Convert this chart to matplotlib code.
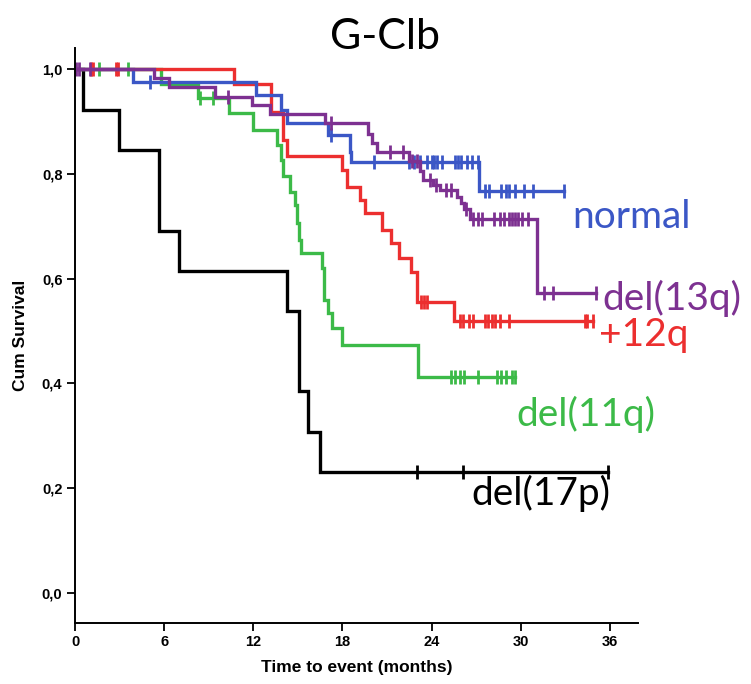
import numpy as np
import matplotlib
matplotlib.use("Agg")
import matplotlib.pyplot as plt

# ---------------- data (months, cumulative survival) ----------------
normal_times = [3.9, 12.2, 13.9, 14.25, 17.0, 18.5, 18.6, 27.2]
normal_surv = [0.975, 0.951, 0.922, 0.898, 0.874, 0.843, 0.823, 0.768]
normal_cens = [5.05, 17.2, 20.1, 22.5, 22.8, 23.2, 23.7, 24.0, 24.2, 24.4, 24.7,
               25.6, 25.8, 26.0, 26.4, 26.7, 27.1, 27.6, 27.9, 28.7, 29.0, 29.2,
               29.6, 30.2, 30.8, 32.9]

del13q_times = [5.3, 6.3, 9.4, 11.9, 13.1, 16.8, 19.7, 20.0, 20.3, 22.5, 23.2,
                23.4, 24.1, 24.6, 25.7, 26.0, 26.2, 26.6, 31.1]
del13q_surv = [0.983, 0.967, 0.948, 0.931, 0.914, 0.897, 0.876, 0.859, 0.843,
               0.824, 0.805, 0.789, 0.779, 0.769, 0.757, 0.745, 0.734, 0.715, 0.572]
del13q_cens = [0.05, 0.3, 1.0, 10.3, 17.2, 21.2, 22.1, 22.7, 23.0, 23.9, 24.3,
               25.0, 25.3, 26.3, 26.8, 27.1, 27.4, 28.2, 28.6, 28.9, 29.2, 29.4,
               29.6, 29.8, 30.1, 30.5, 31.6, 32.2, 35.1]

plus12q_times = [10.7, 13.2, 14.0, 14.3, 17.95, 18.3, 19.2, 19.5, 20.7, 21.25,
                 21.8, 22.6, 23.0, 25.5]
plus12q_surv = [0.972, 0.919, 0.865, 0.834, 0.808, 0.776, 0.750, 0.725, 0.694,
                0.668, 0.639, 0.613, 0.556, 0.520]
plus12q_cens = [1.06, 1.2, 2.76, 2.9, 23.3, 23.5, 23.7, 25.9, 26.1, 26.5, 26.8,
                27.6, 27.8, 28.05, 28.3, 28.6, 29.2, 34.3, 34.5, 34.9]

del11q_times = [5.8, 8.3, 10.4, 11.96, 13.57, 13.84, 13.97, 14.5, 14.8, 14.96,
                15.1, 15.2, 16.6, 16.75, 17.05, 17.3, 18.0, 23.1]
del11q_surv = [0.972, 0.945, 0.916, 0.885, 0.855, 0.827, 0.796, 0.766, 0.741,
               0.706, 0.674, 0.650, 0.620, 0.559, 0.534, 0.505, 0.473, 0.413]
del11q_cens = [1.6, 3.6, 8.4, 9.3, 25.3, 25.6, 25.9, 26.2, 27.1, 28.4, 28.7,
               29.0, 29.4, 29.6]

del17p_times = [0.56, 2.98, 5.67, 7.0, 14.25, 15.1, 15.7, 16.5]
del17p_surv = [0.923, 0.846, 0.692, 0.615, 0.538, 0.385, 0.308, 0.231]
del17p_cens = [23.0, 26.1, 35.9]

group_names = ["normal", "del(13q)", "+12q", "del(11q)", "del(17p)"]
x_ticks = [0, 6, 12, 18, 24, 30, 36]
y_ticks = [0.0, 0.2, 0.4, 0.6, 0.8, 1.0]
y_ticklabels = ["0,0", "0,2", "0,4", "0,6", "0,8", "1,0"]

# ---------------- styling ----------------
colors = {"normal": "#3b57c6", "del(13q)": "#7d3191", "+12q": "#ec2f2f",
          "del(11q)": "#3cba48", "del(17p)": "#000000"}
label_pos = {"normal": (33.5, 0.718), "del(13q)": (35.5, 0.563),
             "+12q": (35.3, 0.492), "del(11q)": (29.7, 0.340),
             "del(17p)": (26.7, 0.190)}

series = {
    "del(17p)": (del17p_times, del17p_surv, del17p_cens),
    "del(11q)": (del11q_times, del11q_surv, del11q_cens),
    "+12q": (plus12q_times, plus12q_surv, plus12q_cens),
    "normal": (normal_times, normal_surv, normal_cens),
    "del(13q)": (del13q_times, del13q_surv, del13q_cens),
}

fig = plt.figure(figsize=(7.51, 6.84), dpi=100)
ax = fig.add_axes([75 / 751, 1 - 622.7 / 684, (638 - 75) / 751, (622.7 - 48.4) / 684])

for name in ["del(17p)", "del(11q)", "+12q", "normal", "del(13q)"]:
    times, surv, cens = series[name]
    end = max(max(cens), times[-1])
    t = np.array([0.0] + list(times) + [end])
    s = np.array([1.0] + list(surv) + [surv[-1]])
    ax.step(t, s, where="post", color=colors[name], lw=2.4, solid_joinstyle="miter")
    c = np.array(cens)
    idx = np.searchsorted(np.array(times), c, side="right")
    lev = np.array([1.0] + list(surv))[idx]
    ax.plot(c, lev, linestyle="none", marker="|", markersize=10,
            markeredgewidth=2.0, color=colors[name])

for name in group_names:
    x, y = label_pos[name]
    ax.text(x, y, name, color=colors[name], fontsize=28, family="Lato",
            ha="left", va="center", clip_on=False)

ax.set_xlim(0, 37.9)
ax.set_ylim(-0.0571, 1.04)
ax.set_xticks(x_ticks)
ax.set_xticklabels([str(v) for v in x_ticks])
ax.set_yticks(y_ticks)
ax.set_yticklabels(y_ticklabels)
for lab in ax.get_xticklabels() + ax.get_yticklabels():
    lab.set_fontweight("bold")
    lab.set_fontsize(10.5)
    lab.set_family("Liberation Sans")
ax.tick_params(direction="out", length=6, width=1.3, pad=3)
for sp in ["top", "right"]:
    ax.spines[sp].set_visible(False)
for sp in ["left", "bottom"]:
    ax.spines[sp].set_linewidth(1.4)

ax.set_xlabel("Time to event (months)", fontsize=12.5, fontweight="bold",
              family="Liberation Sans", labelpad=8)
ax.set_ylabel("Cum Survival", fontsize=12.5, fontweight="bold",
              family="Liberation Sans", labelpad=10)

fig.text(385 / 751, 1 - 37 / 684, "G-Clb", fontsize=31, family="Lato",
         ha="center", va="center")

fig.savefig("out.png", dpi=100)
